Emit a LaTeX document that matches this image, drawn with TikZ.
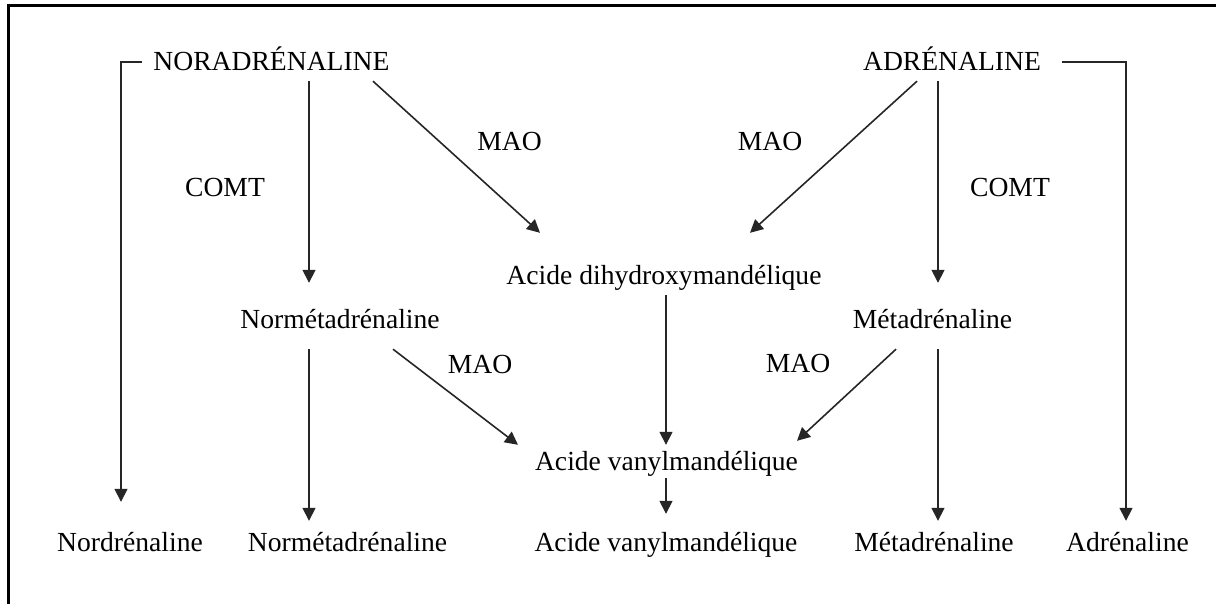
\documentclass[tikz,border=0pt]{standalone}
\usepackage{fontspec}
\setmainfont{Liberation Serif}
\usetikzlibrary{arrows.meta}

\tikzset{
  lbl/.style={inner sep=0pt, anchor=base, text height=18.3pt, text depth=0pt,
              font=\fontsize{27.6}{33}\selectfont},
  arr/.style={draw=black!85, line width=1.6pt,
              -{Triangle[length=13pt,width=13pt]}},
  frame/.style={draw=black, line width=3pt}
}

\begin{document}
\begin{tikzpicture}[x=1pt, y=-1pt]
  \useasboundingbox (0,0) rectangle (1216,604);

  % open frame: top and left edges
  \draw[frame] (8.5,604) -- (8.5,5.5) -- (1216,5.5);

  % substances
  \node[lbl] (nor)    at (271.5,71)  {NORADRÉNALINE};
  \node[lbl] (adr)    at (952,71)    {ADRÉNALINE};
  \node[lbl] (dhm)    at (664,284)   {Acide dihydroxymandélique};
  \node[lbl] (normet) at (340,328)   {Normétadrénaline};
  \node[lbl] (met)    at (932.5,328) {Métadrénaline};
  \node[lbl] (vma)    at (666.5,470) {Acide vanylmandélique};
  \node[lbl] (bnor)   at (130,551)   {Nordrénaline};
  \node[lbl] (bnmet)  at (347.5,551) {Normétadrénaline};
  \node[lbl] (bvma)   at (666,551)   {Acide vanylmandélique};
  \node[lbl] (bmet)   at (934,551)   {Métadrénaline};
  \node[lbl] (badr)   at (1127.5,551){Adrénaline};

  % enzymes
  \node[lbl] (comtl) at (225,197)   {COMT};
  \node[lbl] (comtr) at (1010,197)  {COMT};
  \node[lbl] (maotl) at (509.5,151) {MAO};
  \node[lbl] (maotr) at (770,151)   {MAO};
  \node[lbl] (maobl) at (480,373)   {MAO};
  \node[lbl] (maobr) at (798,372)   {MAO};

  % unchanged fractions (brackets)
  \draw[arr, shorten <=11pt, shorten >=30.7pt]
    (nor.west) -| ([xshift=-9pt]bnor.north);
  \draw[arr, shorten <=21pt, shorten >=11.7pt]
    (adr.east) -| ([xshift=-1.5pt]badr.north);

  % COMT pathways
  \draw[arr] ([xshift=37.5pt,yshift=-10pt]nor.south)
          -- ([xshift=-31pt,yshift=26.7pt]normet.north);
  \draw[arr] ([xshift=-14pt,yshift=-10pt]adr.south)
          -- ([xshift=5.5pt,yshift=26.7pt]met.north);
  \draw[arr] ([xshift=-31pt,yshift=-21pt]normet.south)
          -- ([xshift=-38.5pt,yshift=11.7pt]bnmet.north);
  \draw[arr] ([xshift=5.5pt,yshift=-21pt]met.south)
          -- ([xshift=4pt,yshift=11.7pt]bmet.north);

  % MAO pathways
  \draw[arr] ([xshift=101.5pt,yshift=-10pt]nor.south)
          -- ([xshift=-124pt,yshift=32.7pt]dhm.north);
  \draw[arr] ([xshift=-35pt,yshift=-10pt]adr.south)
          -- ([xshift=86pt,yshift=32.7pt]dhm.north);
  \draw[arr] ([xshift=53pt,yshift=-21pt]normet.south)
          -- ([xshift=-148.5pt,yshift=6.7pt]vma.north);
  \draw[arr] ([xshift=-36.5pt,yshift=-21pt]met.south)
          -- ([xshift=130.5pt,yshift=10.7pt]vma.north);

  % acid pathway
  \draw[arr] ([xshift=2pt,yshift=-11pt]dhm.south)
          -- ([xshift=-0.5pt,yshift=6.7pt]vma.north);
  \draw[arr] ([xshift=-0.5pt,yshift=-8pt]vma.south)
          -- ([yshift=18.7pt]bvma.north);
\end{tikzpicture}
\end{document}
